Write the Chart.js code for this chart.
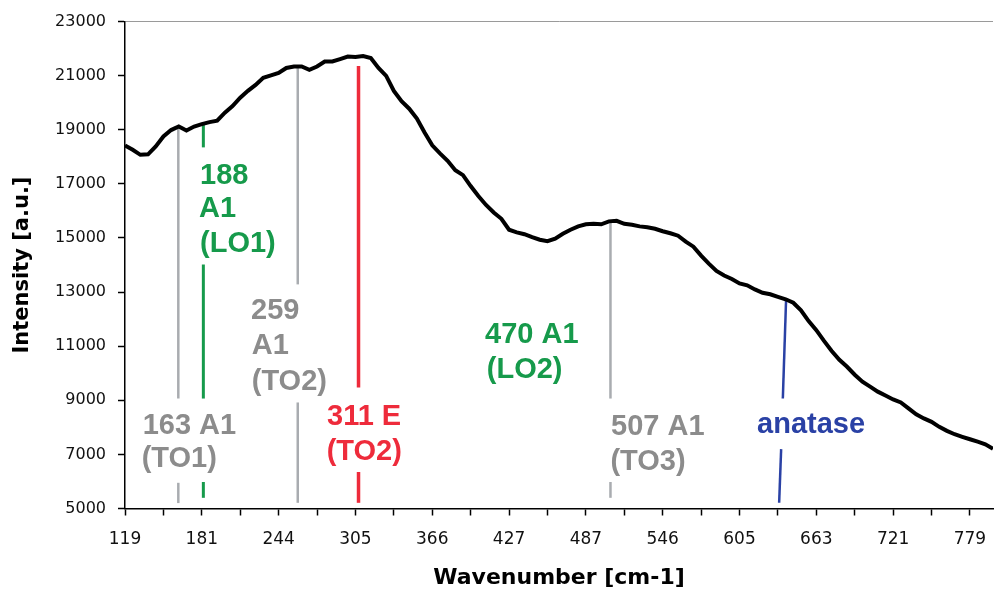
<!DOCTYPE html>
<html>
<head>
<meta charset="utf-8">
<script src="https://cdn.jsdelivr.net/npm/chart.js@4.4.1/dist/chart.umd.min.js"></script>
<style>
  html, body { margin: 0; padding: 0; background: #fff; }
  #wrap { width: 994px; height: 595px; }
</style>
</head>
<body>
<div id="wrap"><canvas id="ramanChart"></canvas></div>
<script>
// Excel-style category axis: every label step is one of these wavenumbers
const tickLabels = ["119", "181", "244", "305", "366", "427", "487", "546", "605", "663", "721", "779"];

// intensity, one sample every 0.1 label step (119 cm-1 -> right edge)
const sampleStep = 0.1;
const intensity = [
  18420, 18260, 18075, 18095, 18385, 18755, 18990, 19120, 18975, 19120,
  19210, 19285, 19340, 19635, 19875, 20185, 20440, 20660, 20920, 21010,
  21100, 21285, 21340, 21340, 21215, 21340, 21525, 21525, 21615, 21710,
  21690, 21725, 21655, 21285, 20995, 20440, 20055, 19780, 19415, 18900,
  18425, 18130, 17855, 17505, 17325, 16920, 16550, 16220, 15945, 15710,
  15305, 15210, 15140, 15030, 14935, 14880, 14975, 15155, 15305, 15430,
  15505, 15525, 15505, 15615, 15635, 15525, 15490, 15430, 15395, 15340,
  15250, 15175, 15085, 14865, 14680, 14350, 14055, 13780, 13615, 13485,
  13320, 13250, 13100, 12975, 12920, 12825, 12735, 12605, 12330, 11930,
  11595, 11195, 10825, 10495, 10240, 9945, 9690, 9505, 9320, 9175,
  9030, 8920, 8700, 8480, 8330, 8205, 8020, 7870, 7745, 7650,
  7560, 7470, 7375, 7210
];

const yTicks = [5000, 7000, 9000, 11000, 13000, 15000, 17000, 19000, 21000, 23000];

const GRAY = "#a9acb0", GRAY_TXT = "#8c8c8c";
const GREEN = "#169a4b", RED = "#ee2b3b", BLUE = "#2a41a5";

// peak marker lines (x in label steps, y in intensity), broken where the labels sit
const markers = [
  { color: GRAY,  width: 2.5, segs: [[0.694, 19120, 0.694, 9065], [0.694, 5950, 0.694, 5200]] },
  { color: GREEN, width: 3,   segs: [[1.02, 19195, 1.02, 18350], [1.02, 14020, 1.02, 9065], [1.02, 5980, 1.02, 5395]] },
  { color: GRAY,  width: 2.5, segs: [[2.249, 21340, 2.249, 13285], [2.249, 8920, 2.249, 5210]] },
  { color: RED,   width: 3.5, segs: [[3.04, 21360, 3.04, 9470], [3.04, 6350, 3.04, 5210]] },
  { color: GRAY,  width: 2.5, segs: [[6.32, 15635, 6.32, 9065], [6.32, 5980, 6.32, 5395]] },
  { color: BLUE,  width: 2.5, segs: [[8.607, 12780, 8.564, 9065], [8.542, 7195, 8.516, 5210]] }
];

const notes = [
  ["163 A1", 0.230, 7745, GRAY_TXT], ["(TO1)", 0.217, 6535, GRAY_TXT],
  ["188", 0.977, 16990, GREEN], ["A1", 0.964, 15780, GREEN], ["(LO1)", 0.977, 14495, GREEN],
  ["259", 1.641, 12000, GRAY_TXT], ["A1", 1.65, 10715, GRAY_TXT], ["(TO2)", 1.65, 9395, GRAY_TXT],
  ["311 E", 2.63, 8075, RED], ["(TO2)", 2.626, 6790, RED],
  ["470 A1", 4.6875, 11120, GREEN], ["(LO2)", 4.71, 9835, GREEN],
  ["507 A1", 6.328, 7710, GRAY_TXT], ["(TO3)", 6.32, 6420, GRAY_TXT],
  ["anatase", 8.229, 7780, BLUE]
];

const peakMarks = {
  id: "peakMarks",
  beforeDatasetsDraw(chart) {
    let { ctx, scales: { x, y } } = chart;
    ctx.save();
    ctx.lineCap = "butt";
    markers.forEach(m => {
      ctx.strokeStyle = m.color;
      ctx.lineWidth = m.width;
      m.segs.forEach(s => {
        ctx.beginPath();
        ctx.moveTo(x.getPixelForValue(s[0]), y.getPixelForValue(s[1]));
        ctx.lineTo(x.getPixelForValue(s[2]), y.getPixelForValue(s[3]));
        ctx.stroke();
      });
    });
    ctx.restore();
  },
  afterDatasetsDraw(chart) {
    let { ctx, scales: { x, y } } = chart;
    ctx.save();
    ctx.font = "bold 29px 'Liberation Sans', Arial, sans-serif";
    ctx.textAlign = "left";
    ctx.textBaseline = "alphabetic";
    notes.forEach(n => {
      ctx.fillStyle = n[3];
      ctx.fillText(n[0], x.getPixelForValue(n[1]), y.getPixelForValue(n[2]));
    });
    ctx.restore();
  }
};

const points = intensity.map((v, i) => ({ x: +(i * sampleStep).toFixed(2), y: v }));

new Chart(document.getElementById("ramanChart"), {
  type: "line",
  data: {
    datasets: [{
      data: points,
      borderColor: "#000",
      borderWidth: 4,
      pointRadius: 0,
      tension: 0,
      fill: false
    }]
  },
  options: {
    responsive: true,
    maintainAspectRatio: false,
    animation: false,
    layout: { padding: { top: 18, right: 1, left: 0, bottom: 0 } },
    plugins: { legend: { display: false }, tooltip: { enabled: false } },
    scales: {
      x: {
        type: "linear",
        min: 0,
        max: (intensity.length - 1) * sampleStep,
        afterBuildTicks: s => {
          let t = [];
          for (let i = 0; i <= (tickLabels.length - 1) * 2; i++) t.push({ value: i / 2 });
          s.ticks = t;
        },
        // the last label sits well inside the plot, so no extra right padding is needed
        afterFit: s => { s.height = 86.5; s.paddingRight = 0; },
        grid: { drawOnChartArea: false, tickLength: 7, tickColor: "#000", tickWidth: 1.5 },
        border: { display: true, color: "#000", width: 1.5 },
        ticks: {
          autoSkip: false,
          maxRotation: 0,
          padding: 14,
          color: "#111",
          font: { family: "'DejaVu Sans', sans-serif", size: 17 },
          callback: v => Number.isInteger(v) ? tickLabels[v] : ""
        },
        title: {
          display: true,
          text: "Wavenumber [cm-1]",
          color: "#000",
          padding: { top: 0, bottom: 4 },
          font: { family: "'DejaVu Sans', sans-serif", size: 22, weight: "bold" }
        }
      },
      y: {
        min: 5000,
        max: 23000,
        afterBuildTicks: s => { s.ticks = yTicks.map(v => ({ value: v })); },
        afterFit: s => { s.width = 125; },
        grid: {
          drawOnChartArea: true,
          color: c => (c.tick && c.tick.value === 23000) ? "#9a9a9a" : "rgba(0,0,0,0)",
          tickLength: 7,
          tickColor: "#000",
          tickWidth: 1.5
        },
        border: { display: true, color: "#000", width: 1.5 },
        ticks: {
          padding: 12,
          color: "#111",
          font: { family: "'DejaVu Sans', sans-serif", size: 16 },
          callback: v => String(v)
        },
        title: {
          display: true,
          text: "Intensity [a.u.]",
          color: "#000",
          padding: { top: 10, bottom: 0 },
          font: { family: "'DejaVu Sans', sans-serif", size: 21, weight: "bold" }
        }
      }
    }
  },
  plugins: [peakMarks]
});
</script>
</body>
</html>
